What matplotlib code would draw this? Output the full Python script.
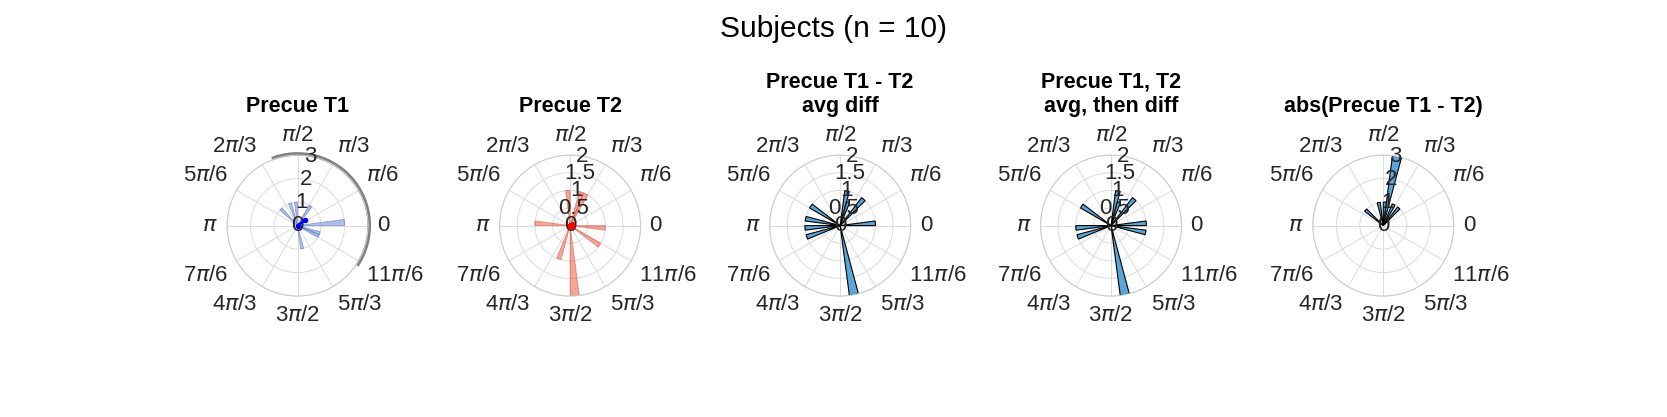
import numpy as np
import matplotlib
matplotlib.use('Agg')
import matplotlib.pyplot as plt

plt.rcParams['font.family'] = ['Liberation Sans', 'DejaVu Sans']
plt.rcParams['mathtext.fontset'] = 'dejavusans'

# bar centres (degrees) and heights for each panel
t1_theta = [3.75, -18.75, -26.25, -78.75, 56.25, 93.75, 108.75, 135.0]
t1_count = [2, 1, 1, 1, 1, 1, 1, 1]
t2_theta = [-86.25, -3.75, -33.75, -108.75, 176.25, 93.75, 63.75, 71.25]
t2_count = [2, 1, 1, 1, 1, 1, 1, 1]
avgdiff_theta = [-78.75, 3.75, 78.75, 71.25, 48.75, 146.25, 168.75, 183.75, 198.75]
avgdiff_count = [2, 1, 1, 0.7, 1, 1, 1, 1, 1]
diffavg_theta = [-78.75, 3.75, -11.25, 78.75, 71.25, 48.75, 146.25, 183.75, 198.75]
diffavg_count = [2, 1, 1, 1, 0.7, 1, 1, 1, 1]
abs_theta = [78.75, 138.75, 101.25, 86.25, 63.75, 48.75]
abs_count = [3, 1, 1, 1, 1, 1]

# mean vectors (angle deg, length)
t1_mean = (36, 0.4)
t2_mean = (10, 0.06)
# arc drawn around panel 1 (degrees)
t1_arc = (-34, 111)

theta_labels = ['0', r'$\pi$/6', r'$\pi$/3', r'$\pi$/2', r'2$\pi$/3', r'5$\pi$/6', r'$\pi$',
                r'7$\pi$/6', r'4$\pi$/3', r'3$\pi$/2', r'5$\pi$/3', r'11$\pi$/6']

titles = ['Precue T1', 'Precue T2', 'Precue T1 - T2\navg diff',
          'Precue T1, T2\navg, then diff', 'abs(Precue T1 - T2)']
rmaxes = [3, 2, 2, 2, 3]
rticks = [[0, 1, 2, 3], [0, 0.5, 1, 1.5, 2], [0, 0.5, 1, 1.5, 2], [0, 0.5, 1, 1.5, 2], [0, 1, 2, 3]]
thetas = [t1_theta, t2_theta, avgdiff_theta, diffavg_theta, abs_theta]
counts = [t1_count, t2_count, avgdiff_count, diffavg_count, abs_count]

blue_face = (0.25, 0.4, 0.78, 0.42)
red_face = (0.9, 0.3, 0.2, 0.5)
cyan_face = (0.35, 0.65, 0.86)
styles = [dict(color=blue_face, edgecolor=(0.35, 0.45, 0.8, 0.6), linewidth=0.6),
          dict(color=red_face, edgecolor=(0.85, 0.35, 0.25, 0.6), linewidth=0.6),
          dict(color=cyan_face, edgecolor='black', linewidth=0.8),
          dict(color=cyan_face, edgecolor='black', linewidth=0.8),
          dict(color=cyan_face, edgecolor='black', linewidth=0.8)]

txt_col = (0.15, 0.15, 0.15)
fig = plt.figure(figsize=(16.67, 4.17), dpi=100)
fig.suptitle('Subjects (n = 10)', fontsize=21.5, y=0.965)

centers_x = [0.1785, 0.342, 0.504, 0.6665, 0.8298]
cy = 0.459
w = 141 / 1667
h = 141 / 417

for i in range(5):
    ax = fig.add_axes([centers_x[i] - w / 2, cy - h / 2, w, h], projection='polar')
    rmax = rmaxes[i]
    ax.bar(np.deg2rad(thetas[i]), counts[i], width=np.deg2rad(7.5), bottom=0, **styles[i])
    ax.set_ylim(0, rmax)
    ax.set_thetagrids(np.arange(0, 360, 30), [''] * 12)
    ax.set_yticks(rticks[i])
    ax.set_yticklabels([])
    ax.grid(color=(0.86, 0.86, 0.86), linewidth=0.7)
    ax.spines['polar'].set_color((0.8, 0.8, 0.8))
    ax.spines['polar'].set_linewidth(0.8)
    ax.tick_params(length=0)
    ax.set_axisbelow(True)

    # theta labels
    for a, lab in zip(np.arange(0, 360, 30), theta_labels):
        c, s = np.cos(np.deg2rad(a)), np.sin(np.deg2rad(a))
        ha = 'left' if c > 0.1 else ('right' if c < -0.1 else 'center')
        va = 'bottom' if s > 0.1 else ('top' if s < -0.1 else 'center')
        ax.annotate(lab, xy=(np.deg2rad(a), rmax), xytext=(9 * c, 9 * s),
                    textcoords='offset pixels', ha=ha, va=va, fontsize=16,
                    color=txt_col, annotation_clip=False)
    # radial labels
    for r in rticks[i]:
        ax.text(np.deg2rad(80), r, f'{r:g}', ha='center', va='center',
                fontsize=16, color=txt_col, zorder=5)

    ax.set_title(titles[i], fontsize=15.5, fontweight='bold', pad=31)

    if i == 0:
        arc = np.deg2rad(np.linspace(t1_arc[0], t1_arc[1], 200))
        ax.plot(arc, np.full_like(arc, 3.05), color=(0.5, 0.5, 0.5), linewidth=2.6,
                clip_on=False, solid_capstyle='butt')
        ax.plot([0, np.deg2rad(t1_mean[0])], [0, t1_mean[1]], color='blue',
                linewidth=1.8, marker='o', markersize=3, zorder=6)
    if i == 1:
        ax.plot([0, np.deg2rad(t2_mean[0])], [0, t2_mean[1]], color='red',
                linewidth=1.2, marker='s', markersize=2.2, zorder=6)

fig.savefig('out.png', dpi=100)
